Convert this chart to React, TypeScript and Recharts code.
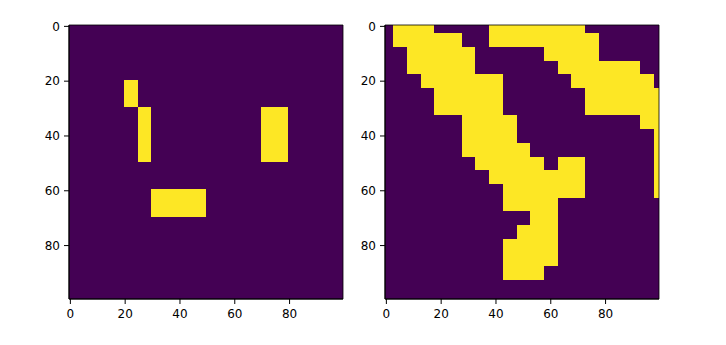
import { ScatterChart, Scatter, XAxis, YAxis, ReferenceArea } from "recharts";

const PURPLE = "#440154";
const YELLOW = "#fde725";

const axisTicks = [0, 20, 40, 60, 80];
const imageDomain = [-0.5, 99.5];

// yellow pixel blocks as [rowStart, rowEnd, colStart, colEnd), end exclusive
const leftBlocks = [
  [20, 30, 20, 25],
  [30, 50, 25, 30],
  [30, 50, 70, 80],
  [60, 70, 30, 50],
];

const rightBlocks = [
  [0, 3, 3, 18],
  [0, 3, 38, 73],
  [3, 8, 3, 28],
  [3, 8, 38, 78],
  [8, 18, 8, 33],
  [8, 13, 58, 78],
  [13, 18, 63, 93],
  [18, 23, 13, 43],
  [18, 23, 68, 98],
  [23, 33, 18, 43],
  [23, 33, 73, 100],
  [33, 43, 28, 48],
  [33, 38, 93, 100],
  [38, 63, 98, 100],
  [43, 48, 28, 53],
  [48, 53, 33, 58],
  [48, 53, 63, 73],
  [53, 58, 38, 73],
  [58, 63, 43, 73],
  [63, 68, 43, 63],
  [68, 73, 53, 63],
  [73, 78, 48, 63],
  [78, 88, 43, 63],
  [88, 93, 43, 58],
];

const PLOT = 274;
const Y_AXIS_W = 69;
const X_AXIS_H = 30;
const TOP = 25;
const H = 345;

type Block = number[];

const ImagePanel = ({ blocks, left }: { blocks: Block[]; left: number }) => (
  <div style={{ position: "absolute", left, top: 0 }}>
    <ScatterChart
      width={Y_AXIS_W + PLOT + 6}
      height={H}
      margin={{ top: TOP, right: 6, bottom: H - TOP - PLOT - X_AXIS_H, left: 0 }}
    >
      <XAxis
        type="number"
        dataKey="x"
        domain={imageDomain}
        allowDataOverflow
        ticks={axisTicks}
        interval={0}
        height={X_AXIS_H}
        tickSize={5}
        tickMargin={5}
        stroke="#000"
        tick={{ fill: "#000", fontSize: 12 }}
      />
      <YAxis
        type="number"
        dataKey="y"
        reversed
        domain={imageDomain}
        allowDataOverflow
        ticks={axisTicks}
        interval={0}
        width={Y_AXIS_W}
        tickSize={5}
        tickMargin={4}
        stroke="#000"
        tick={{ fill: "#000", fontSize: 12 }}
      />
      <ReferenceArea
        x1={-0.5}
        x2={99.5}
        y1={-0.5}
        y2={99.5}
        fill={PURPLE}
        fillOpacity={1}
        stroke="none"
        shapeRendering="crispEdges"
      />
      {blocks.map(([r0, r1, c0, c1], i) => (
        <ReferenceArea
          key={i}
          x1={c0 - 0.5}
          x2={c1 - 0.5}
          y1={r0 - 0.5}
          y2={r1 - 0.5}
          fill={YELLOW}
          fillOpacity={1}
          stroke="none"
          shapeRendering="crispEdges"
        />
      ))}
      {/* spines on top of the image */}
      <ReferenceArea x1={-0.5} x2={99.5} y1={-0.5} y2={99.5} fill="none" stroke="#000" strokeWidth={0.8} />
      <Scatter data={[]} isAnimationActive={false} />
    </ScatterChart>
  </div>
);

export default function App() {
  return (
    <div
      style={{
        position: "absolute",
        left: 0,
        top: 0,
        width: 726,
        height: H,
        background: "#fff",
        fontFamily: "DejaVu Sans",
      }}
    >
      <ImagePanel blocks={leftBlocks} left={0} />
      <ImagePanel blocks={rightBlocks} left={316} />
    </div>
  );
}
